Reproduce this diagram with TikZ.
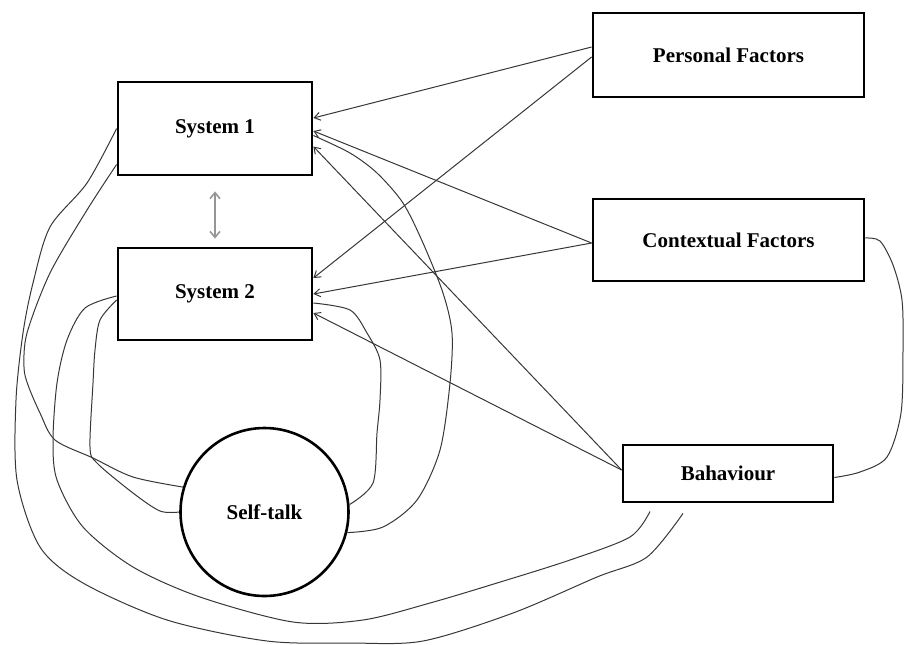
\documentclass[tikz,border=0pt]{standalone}
\usepackage{fontspec}
\setmainfont{Liberation Serif}
\usetikzlibrary{arrows.meta, positioning, shapes.geometric}
\definecolor{linegray}{RGB}{55, 55, 55}
\definecolor{twogray}{RGB}{150, 150, 150}

\begin{document}
\begin{tikzpicture}[
    x=0.5pt, y=-0.5pt,
    factor/.style={
        rectangle,
        draw,
        line width=1.4pt,
        minimum width=#1,
        minimum height=41pt,
        align=center,
        font=\fontsize{10.5}{12}\selectfont\bfseries
    },
    talk/.style={
        circle,
        draw,
        line width=1.3pt,
        minimum size=84pt,
        inner sep=0pt,
        font=\fontsize{10.5}{12}\selectfont\bfseries
    },
    link/.style={
        -{Straight Barb[length=3pt,width=4pt]},
        line width=0.5pt,
        draw=linegray
    },
    loopline/.style={
        line width=0.5pt,
        draw=linegray
    }
]

\useasboundingbox (0,0) rectangle (904,644);

% Position the systems
\node[factor=97pt, minimum height=46.5pt] (sys1) at (215,128.5) {System 1};
\node[factor=97pt, minimum height=46pt] (sys2) at (215,294) {System 2};

% Position the factors
\node[factor=135.5pt, minimum height=42pt] (personal) at (728.5,55) {Personal Factors};
\node[factor=135.5pt] (context) at (728.5,240) {Contextual Factors};
\node[factor=105pt, minimum height=28.5pt] (behaviour) at (728,473.5) {Bahaviour};

% Self-talk circle
\node[talk] (self) at (264.5,512) {Self-talk};

% Between the two systems
\draw[{Straight Barb[length=3pt,width=5pt]}-{Straight Barb[length=3pt,width=5pt]}, twogray, line width=0.8pt]
    ([yshift=-7.5pt]sys1.south) -- ([yshift=4pt]sys2.north);

% Draw the arrows
\draw[link] ([yshift=4pt]personal.west) -- ([yshift=5.25pt]sys1.east);
\draw[link] ([yshift=-1pt]personal.west) -- ([yshift=8pt]sys2.east);
\draw[link] ([yshift=-1.5pt]context.west) -- ([yshift=-1.25pt]sys1.east);
\draw[link] ([yshift=-1.5pt]context.west) -- (sys2.east);
\draw[link] ([yshift=1.75pt]behaviour.west) -- ([yshift=-9pt]sys1.east);
\draw[link] ([yshift=1.75pt]behaviour.west) -- ([yshift=-9.5pt]sys2.east);

% Loops round the left side
\draw[loopline] plot[smooth] coordinates {(sys1.west) (87,183) (50,227) (33,283) (23,333)
    (16,400) (17,480) (40,547) (83,583) (167,620) (267,641) (350,643) (423,641) (513,613) (597,577)
    (647,557) ([xshift=-22.5pt,yshift=-5pt]behaviour.south)};
\draw[loopline] plot[smooth] coordinates {([yshift=-18pt]sys1.west) (87,210) (50,273) (27,333)
    (24,367) (28,385) (40,413) (55,440) (93,458) (133,477) (self.163)};
\draw[loopline] plot[smooth] coordinates {([yshift=-3pt]sys2.west) (100,320) (95,350) (93,383) (90,447)
    (97,463) (133,493) (160,511) (self.west)};
\draw[loopline] plot[smooth] coordinates {([yshift=-1pt]sys2.west) (85,308) (67,340) (57,383)
    (53,440) (57,480) (83,527) (133,567) (200,597) (293,622) (363,620) (430,603) (497,583) (570,560)
    (630,537) ([xshift=-39pt,yshift=-4pt]behaviour.south)};

% Loops round the right side
\draw[loopline] plot[smooth] coordinates {([yshift=-4.5pt]sys2.east) (350,310) (367,333) (380,360)
    (380,400) (377,433) (373,483) (self.5)};
\draw[loopline] plot[smooth] coordinates {([yshift=-3.5pt]sys1.east) (350,153) (377,173) (403,203)
    (423,243) (443,293) (452,333) (450,383) (440,450) (417,500) (383,527) (self.-14)};
\draw[loopline] plot[smooth] coordinates {([yshift=1pt]context.east) (880,241) (893,265) (902,300)
    (903,350) (901,413) (887,457) (860,472) ([yshift=-2pt]behaviour.east)};

\end{tikzpicture}
\end{document}
